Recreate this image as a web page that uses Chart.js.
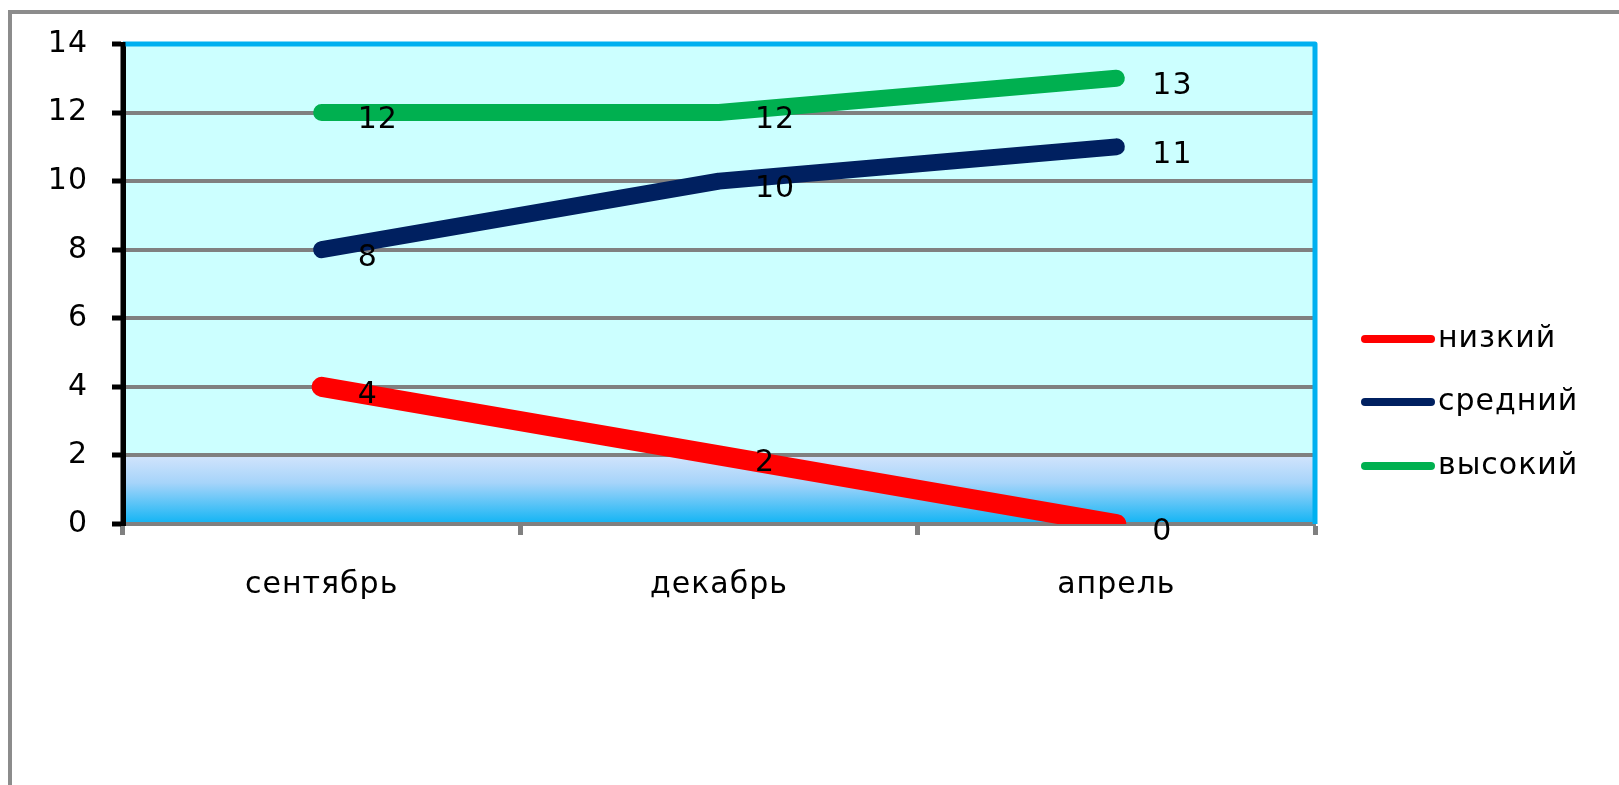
<!DOCTYPE html>
<html>
<head>
<meta charset="utf-8">
<script src="https://cdn.jsdelivr.net/npm/chart.js@4.4.0/dist/chart.umd.min.js"></script>
<style>
  html, body { margin: 0; padding: 0; background: #ffffff; }
  #wrap { position: relative; width: 1619px; height: 785px; }
</style>
</head>
<body>
<div id="wrap"><canvas id="c" width="1619" height="785"></canvas></div>
<script>
const categories = ['сентябрь', 'декабрь', 'апрель'];
const seriesNames = ['низкий', 'средний', 'высокий'];
const lowValues = [4, 2, 0];
const midValues = [8, 10, 11];
const highValues = [12, 12, 13];
const yTicks = [0, 2, 4, 6, 8, 10, 12, 14];
const seriesColors = ['#ff0000', '#002060', '#00b050'];

const FONT = '"DejaVu Sans", Verdana, sans-serif';
const FS = 30;

const bgPlugin = {
  id: 'bgPlugin',
  beforeDraw(chart) {
    const { ctx, chartArea: a, scales } = chart;
    ctx.letterSpacing = '1px';
    ctx.save();
    ctx.fillStyle = '#ffffff';
    ctx.fillRect(0, 0, chart.width, chart.height);
    // outer frame (top and left edges visible)
    ctx.strokeStyle = '#8c8c8c';
    ctx.lineWidth = 4;
    ctx.strokeRect(10, 12, 1640, 800);
    // plot background
    ctx.fillStyle = '#ccffff';
    ctx.fillRect(a.left, a.top, a.right - a.left, a.bottom - a.top);
    const y2 = scales.y.getPixelForValue(2);
    const y0 = scales.y.getPixelForValue(0);
    const g = ctx.createLinearGradient(0, y2, 0, y0);
    g.addColorStop(0, '#d2e4fc');
    g.addColorStop(0.4, '#a6d4fa');
    g.addColorStop(1, '#10b4f4');
    ctx.fillStyle = g;
    ctx.fillRect(a.left, y2, a.right - a.left, y0 - y2);
    ctx.restore();
  },
  afterDraw(chart) {
    const { ctx, chartArea: a } = chart;
    ctx.save();
    // blue top & right border
    ctx.strokeStyle = '#00b0f0';
    ctx.lineWidth = 5;
    ctx.lineJoin = 'round';
    ctx.beginPath();
    ctx.moveTo(a.left, a.top);
    ctx.lineTo(a.right, a.top);
    ctx.lineTo(a.right, a.bottom);
    ctx.stroke();
    // black left axis on top
    ctx.strokeStyle = '#000000';
    ctx.lineWidth = 5;
    ctx.beginPath();
    ctx.moveTo(a.left, a.top - 2);
    ctx.lineTo(a.left, a.bottom);
    ctx.stroke();
    // data labels
    ctx.fillStyle = '#000000';
    ctx.font = FS + 'px ' + FONT;
    ctx.textAlign = 'left';
    ctx.textBaseline = 'middle';
    chart.data.datasets.forEach((ds, i) => {
      const meta = chart.getDatasetMeta(i);
      meta.data.forEach((pt, j) => {
        ctx.fillText(String(ds.data[j]), pt.x + 36, pt.y + 8);
      });
    });
    // legend
    const rows = [339, 402, 466];
    chart.data.datasets.forEach((ds, i) => {
      const y = rows[i];
      ctx.strokeStyle = ds.borderColor;
      ctx.lineWidth = 8;
      ctx.lineCap = 'round';
      ctx.beginPath();
      ctx.moveTo(1365, y);
      ctx.lineTo(1431, y);
      ctx.stroke();
      ctx.fillStyle = '#000000';
      ctx.fillText(ds.label, 1438, y);
    });
    ctx.restore();
  }
};

new Chart(document.getElementById('c'), {
  type: 'line',
  data: {
    labels: categories,
    datasets: [
      { label: seriesNames[0], data: lowValues, borderColor: seriesColors[0], borderWidth: 20 },
      { label: seriesNames[1], data: midValues, borderColor: seriesColors[1], borderWidth: 17 },
      { label: seriesNames[2], data: highValues, borderColor: seriesColors[2], borderWidth: 17 }
    ].map(d => Object.assign(d, {
      pointRadius: 0, pointHoverRadius: 0, tension: 0,
      borderCapStyle: 'round', borderJoinStyle: 'round', fill: false
    }))
  },
  options: {
    responsive: false,
    devicePixelRatio: 1,
    animation: false,
    events: [],
    layout: { padding: { top: 44, right: 1619 - 1315, left: 0, bottom: 0 } },
    plugins: { legend: { display: false }, tooltip: { enabled: false } },
    scales: {
      x: {
        type: 'category',
        offset: true,
        grid: {
          offset: true,
          drawOnChartArea: false,
          drawTicks: true,
          tickLength: 11,
          tickColor: '#808080',
          tickWidth: 5
        },
        border: { display: true, color: '#808080', width: 4 },
        ticks: { color: '#000000', font: { family: FONT, size: FS }, padding: 32 },
        afterFit(scale) { scale.height = 785 - 524; }
      },
      y: {
        min: 0, max: 14,
        afterBuildTicks(scale) { scale.ticks = yTicks.map(v => ({ value: v })); },
        grid: {
          color: ctx => (ctx.tick && (ctx.tick.value === 14 || ctx.tick.value === 0)) ? 'rgba(0,0,0,0)' : '#808080',
          lineWidth: 4,
          drawTicks: true,
          tickLength: 11,
          tickColor: '#000000',
          tickWidth: 5
        },
        border: { display: true, color: '#000000', width: 5 },
        ticks: { color: '#000000', font: { family: FONT, size: FS }, padding: 24 },
        afterFit(scale) { scale.width = 123; }
      }
    }
  },
  plugins: [bgPlugin]
});
</script>
</body>
</html>
